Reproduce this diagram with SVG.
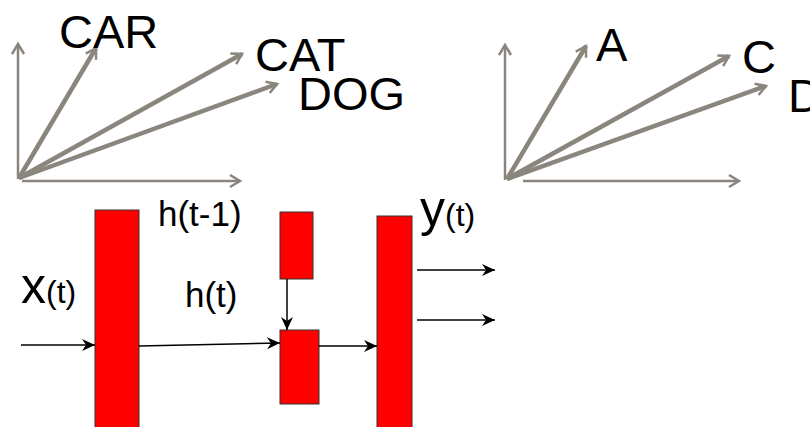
<svg xmlns="http://www.w3.org/2000/svg" width="810" height="427" viewBox="0 0 810 427">
<style>
text{font-family:"Liberation Sans",Arial,sans-serif;fill:#000}
.big{font-size:47px}
.mid{font-size:35px}
.ax{stroke:#8b867d;stroke-width:2.5;fill:none}
.vec{stroke:#8b867d;stroke-width:4.5;fill:none}
.blk{stroke:#000;stroke-width:1.5;fill:none}
.box{fill:#ff0000;stroke:#333;stroke-width:1}
</style>
<defs>
<marker id="ga" markerUnits="userSpaceOnUse" markerWidth="16" markerHeight="16" refX="12" refY="7" orient="auto">
<path d="M2,1 L12,7 L2,13" stroke="#8b867d" stroke-width="2.5" fill="none"/>
</marker>
<marker id="ba" markerUnits="userSpaceOnUse" markerWidth="15" markerHeight="14" refX="13" refY="7" orient="auto">
<path d="M0,1 L13,7 L0,13 L4,7 z" fill="#000"/>
</marker>
</defs>
<g id="chart-left">
<line class="ax" x1="18" y1="179" x2="18" y2="44" marker-end="url(#ga)"/>
<line class="ax" x1="22" y1="181" x2="240" y2="181" marker-end="url(#ga)"/>
<line class="vec" x1="19" y1="178" x2="96" y2="48" marker-end="url(#ga)"/>
<line class="vec" x1="19" y1="178" x2="242" y2="54" marker-end="url(#ga)"/>
<line class="vec" x1="19" y1="178" x2="277" y2="84" marker-end="url(#ga)"/>
<text class="big" x="59" y="48">CAR</text>
<text class="big" x="255" y="71">CAT</text>
<text class="big" x="298" y="110">DOG</text>
</g>
<g id="chart-right">
<line class="ax" x1="505" y1="180" x2="505" y2="45" marker-end="url(#ga)"/>
<line class="ax" x1="523" y1="181" x2="739" y2="181" marker-end="url(#ga)"/>
<line class="vec" x1="507" y1="179" x2="586" y2="46" marker-end="url(#ga)"/>
<line class="vec" x1="507" y1="179" x2="729" y2="56" marker-end="url(#ga)"/>
<line class="vec" x1="507" y1="179" x2="766" y2="86" marker-end="url(#ga)"/>
<text class="big" x="596" y="61">A</text>
<text class="big" x="742" y="73">C</text>
<text class="big" x="788" y="112">D</text>
</g>
<g id="layer-x"><rect class="box" x="95" y="210" width="44" height="230"/></g>
<g id="h-prev"><rect class="box" x="280" y="212" width="33" height="67"/></g>
<g id="h-cur"><rect class="box" x="280" y="330" width="39" height="74"/></g>
<g id="layer-y"><rect class="box" x="377" y="216" width="35" height="220"/></g>
<g id="connectors">
<line class="blk" x1="21" y1="345" x2="95" y2="345" marker-end="url(#ba)"/>
<line class="blk" x1="139" y1="346" x2="280" y2="343" marker-end="url(#ba)"/>
<line class="blk" x1="287" y1="279" x2="287" y2="330" marker-end="url(#ba)"/>
<line class="blk" x1="319" y1="346" x2="377" y2="346" marker-end="url(#ba)"/>
<line class="blk" x1="417" y1="270" x2="495" y2="270" marker-end="url(#ba)"/>
<line class="blk" x1="417" y1="320" x2="495" y2="320" marker-end="url(#ba)"/>
</g>
<g id="labels">
<text x="158" y="226" class="mid">h(t-1)</text>
<text x="185" y="307" class="mid">h(t)</text>
<text x="21" y="303"><tspan font-size="50">x</tspan><tspan font-size="32">(t)</tspan></text>
<text x="420" y="226"><tspan font-size="50">y</tspan><tspan font-size="32">(t)</tspan></text>
</g>
</svg>
